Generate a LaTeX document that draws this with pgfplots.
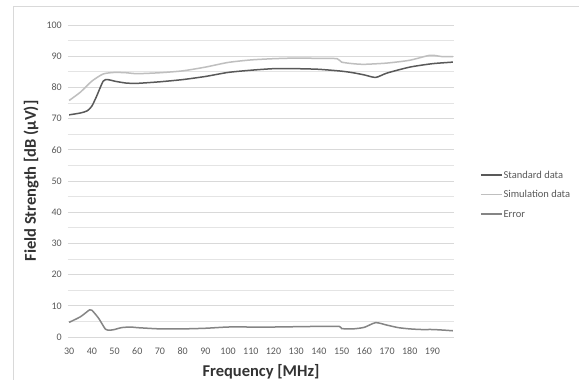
\documentclass[border=0pt]{standalone}
\usepackage{pgfplots}
\pgfplotsset{compat=1.18}
\usepackage{fontspec}
\setmainfont{Carlito}
\definecolor{stdc}{HTML}{595959}
\definecolor{simc}{HTML}{BFBFBF}
\definecolor{errc}{HTML}{858585}
\definecolor{gridc}{HTML}{D9D9D9}
\definecolor{txtc}{HTML}{595959}
\begin{document}
\begin{tikzpicture}[x=1pt,y=1pt]
\useasboundingbox[fill=white] (-68,-43) rectangle (511,337);
\draw[gridc,line width=0.8pt] (-55,-43) -- (-55,331) -- (511,331);
\begin{axis}[
  at={(0,0)}, anchor=origin,
  scale only axis, width=386pt, height=312pt,
  xmin=29.5, xmax=199.5, ymin=0, ymax=100,
  xtick={30,40,...,190}, ytick={0,10,...,100},
  minor ytick={5,15,...,95},
  ymajorgrids, yminorgrids,
  major grid style={gridc,line width=0.8pt},
  minor grid style={gridc!70,line width=0.8pt},
  axis line style={draw=none},
  tick style={draw=none},
  ticklabel style={font=\fontsize{10}{11}\selectfont, text=txtc, inner sep=0pt},
  xticklabel style={anchor=base, yshift=-18pt},
  yticklabel style={anchor=east, xshift=-6pt},
  /pgf/number format/assume math mode=true,
  xlabel={\textbf{Frequency [MHz]}},
  ylabel={\textbf{Field Strength [dB (μV)]}},
  label style={font=\fontsize{16.5}{18}\selectfont, text=black!80, inner sep=0pt},
  xlabel style={at={(axis description cs:0.5,-0.128)}, anchor=base},
  ylabel style={at={(axis description cs:-0.083,0.5)}, anchor=base},
  legend style={at={(1.067,0.539)}, anchor=north west, draw=none, fill=none,
    font=\fontsize{10.5}{12}\selectfont, text=txtc, row sep=7.5pt,
    inner sep=0pt, nodes={inner sep=1pt, text height=8pt, text depth=2pt}},
  legend image code/.code={\draw[#1] (0pt,0pt) -- (21pt,0pt);},
  legend cell align=left,
]
\addplot[stdc, line width=1.5pt, smooth, tension=0.4] coordinates {
(30,71.2) (35,71.8) (38,72.5) (40,74) (42,77) (45,82) (47,82.5) (50,82)
(55,81.4) (60,81.3) (70,81.8) (80,82.5) (90,83.5) (100,84.8) (110,85.5)
(120,86) (130,86) (140,85.8) (150,85.2) (155,84.7) (160,84) (165,83.2)
(170,84.6) (180,86.5) (190,87.6) (199,88.1)};
\addlegendentry{Standard data}
\addplot[simc, line width=1.5pt, smooth, tension=0.4] coordinates {
(30,75.8) (35,78.5) (40,82) (45,84.3) (50,84.8) (55,84.7) (60,84.4)
(70,84.7) (80,85.3) (90,86.5) (100,88) (110,88.8) (120,89.2) (130,89.4)
(140,89.3) (148,89.2) (150,88.1) (155,87.6) (160,87.4) (170,87.8)
(180,88.7) (189,90.3) (194,89.9) (199,89.9)};
\addlegendentry{Simulation data}
\addplot[errc, line width=1.5pt, smooth, tension=0.4] coordinates {
(30,4.7) (35,6.5) (39,8.7) (40,8.6) (43,6) (46,2.5) (48,2.2) (50,2.4)
(53,3.0) (57,3.2) (60,3) (70,2.6) (80,2.6) (90,2.8) (100,3.2) (110,3.2)
(120,3.2) (130,3.3) (140,3.4) (149,3.4) (150,2.7) (155,2.6) (160,3.1)
(165,4.6) (170,3.8) (175,3.0) (180,2.6) (185,2.4) (190,2.4) (195,2.2) (199,2.0)};
\addlegendentry{Error}
\end{axis}
\end{tikzpicture}
\end{document}
